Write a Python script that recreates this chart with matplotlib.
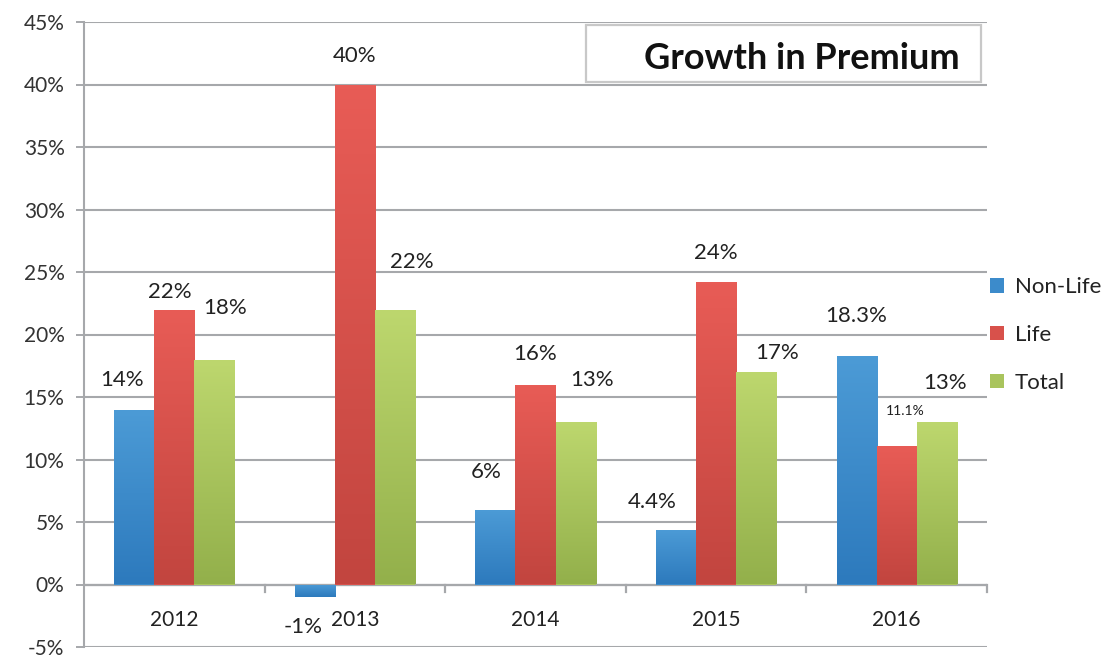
import numpy as np
import matplotlib.pyplot as plt
from matplotlib.patches import Patch, Rectangle
from matplotlib.colors import LinearSegmentedColormap

years = ['2012', '2013', '2014', '2015', '2016']
series = ['Non-Life', 'Life', 'Total']
non_life = [14, -1, 6, 4.4, 18.3]
life = [22, 40, 16, 24.2, 11.1]
total = [18, 22, 13, 17, 13]
labels = [['14%', '-1%', '6%', '4.4%', '18.3%'],
          ['22%', '40%', '16%', '24%', '11.1%'],
          ['18%', '22%', '13%', '17%', '13%']]

# label offsets from bar end in pixels (dx, dy), hand placed like the original
offsets = [[(-12, 30), (-12, -30), (-9, 38), (-24, 28), (0, 40)],
           [(-4, 18), (0, 28), (0, 30), (0, 29), (9, 35)],
           [(11, 51), (17, 47), (16, 42), (21, 19), (8, 39)]]

colors_top = ['#4C9BD6', '#E85C56', '#BDD76E']
colors_bot = ['#2D7ABD', '#C2453F', '#93B04B']
mid = ['#3C8BCB', '#D8514B', '#A9C45D']

plt.rcParams['font.family'] = ['Lato', 'DejaVu Sans']
fig = plt.figure(figsize=(11.19, 6.57), dpi=100)
ax = fig.add_axes([84 / 1119, 10 / 657, 903 / 1119, 625 / 657])

x = np.arange(len(years))
w = 1 / 4.5
data = [non_life, life, total]
grid_c = '#A6A8AB'

for i, vals in enumerate(data):
    xs = x + (i - 1) * w
    bars = ax.bar(xs, vals, width=w, color=mid[i], zorder=3)
    cmap = LinearSegmentedColormap.from_list('g%d' % i, [colors_bot[i], colors_top[i]])
    for b in bars:
        x0, y0 = b.get_x(), min(b.get_y(), b.get_y() + b.get_height())
        x1, y1 = x0 + b.get_width(), max(b.get_y(), b.get_y() + b.get_height())
        grad = np.linspace(0, 1, 100).reshape(-1, 1)
        im = ax.imshow(grad, extent=[x0, x1, y0, y1], origin='lower', cmap=cmap,
                       aspect='auto', zorder=4)
        im.set_clip_path(b)
    for j, (b, v) in enumerate(zip(bars, vals)):
        dx, dy = offsets[i][j]
        fs = 10 if labels[i][j] == '11.1%' else 16
        ax.annotate(labels[i][j], (b.get_x() + w / 2, v), xytext=(dx, dy),
                    textcoords='offset pixels', ha='center', va='center',
                    fontsize=fs, color='#222222', zorder=6)

ax.set_xlim(-0.5, 4.5)
ax.set_ylim(-5, 45)
ax.set_yticks(np.arange(-5, 46, 5))
ax.set_yticklabels(['%d%%' % t for t in range(-5, 46, 5)], fontsize=15, color='#333333')
ax.yaxis.grid(True, color=grid_c, linewidth=1.5, zorder=1)
ax.set_axisbelow(True)
ax.tick_params(axis='y', length=6, width=1.4, color=grid_c, pad=8)
ax.set_xticks([])

for s in ['top', 'right', 'bottom']:
    ax.spines[s].set_visible(False)
ax.spines['left'].set_color(grid_c)
ax.spines['left'].set_linewidth(1.5)

# category axis at 0 with ticks between categories
ax.axhline(0, color=grid_c, linewidth=1.6, zorder=2)
for b in np.arange(0.5, 5, 1):
    ax.plot([b, b], [0, -0.6], color=grid_c, linewidth=1.6, zorder=2, clip_on=False)
for xi, yr in zip(x, years):
    ax.text(xi, -2.8, yr, ha='center', va='center', fontsize=15, color='#222222')

# title box
ax.add_patch(Rectangle((0.556, 0.904), 0.437, 0.092, transform=ax.transAxes,
                       facecolor='white', edgecolor='#C8C8C8', linewidth=1.6, zorder=5))
ax.text(0.970, 0.941, 'Growth in Premium', transform=ax.transAxes, ha='right',
        va='center', fontsize=26, fontweight='bold', color='#111111', zorder=6)

handles = [Patch(facecolor=mid[i]) for i in range(3)]
fig.legend(handles, series, loc='center left', bbox_to_anchor=(0.867, 0.49),
           frameon=False, fontsize=16, handlelength=0.6, handleheight=0.6,
           handletextpad=0.5, labelspacing=1.25, labelcolor='#222222')

fig.savefig('out.png', dpi=100)
